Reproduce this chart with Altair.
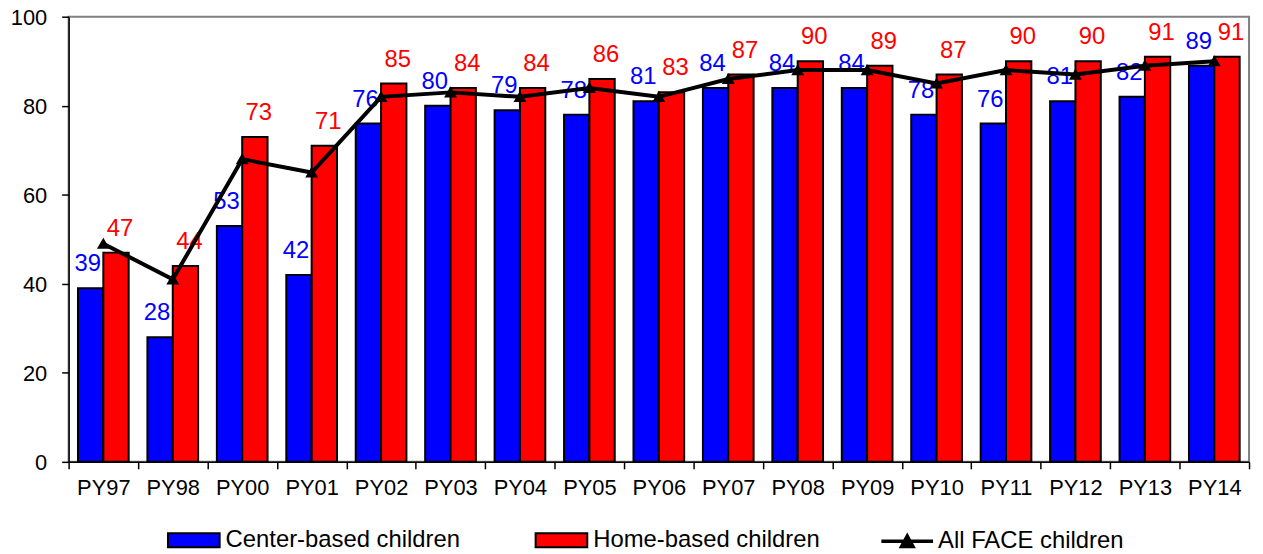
import altair as alt
import pandas as pd

years = ["PY97", "PY98", "PY00", "PY01", "PY02", "PY03", "PY04", "PY05", "PY06",
         "PY07", "PY08", "PY09", "PY10", "PY11", "PY12", "PY13", "PY14"]
center = [39, 28, 53, 42, 76, 80, 79, 78, 81, 84, 84, 84, 78, 76, 81, 82, 89]
home = [47, 44, 73, 71, 85, 84, 84, 86, 83, 87, 90, 89, 87, 90, 90, 91, 91]
all_face = [49, 41, 68, 65, 82, 83, 82, 84, 82, 86, 88, 88, 85, 88, 87, 89, 90]
y_ticks = [0, 20, 40, 60, 80, 100]

CB = "Center-based children"
HB = "Home-based children"
AF = "All FACE children"
FONT = "Liberation Sans"

bars_df = pd.DataFrame({
    "year": years * 2,
    "series": [CB] * len(years) + [HB] * len(years),
    "value": center + home,
})
line_df = pd.DataFrame({"year": years, "series": [AF] * len(years), "value": all_face})

x = alt.X("year:N", sort=years,
          scale=alt.Scale(paddingInner=0, paddingOuter=0),
          axis=alt.Axis(title=None, labelAngle=0, tickBand="extent",
                        labelFontSize=22, labelPadding=9))
y = alt.Y("value:Q", scale=alt.Scale(domain=[0, 100], nice=False),
          axis=alt.Axis(title=None, values=y_ticks, grid=False,
                        labelFontSize=22, labelPadding=15, labelOffset=1))
xoff = alt.XOffset("series:N", sort=[CB, HB],
                   scale=alt.Scale(domain=[CB, HB], paddingOuter=0.37, paddingInner=0))

bars = alt.Chart(bars_df).mark_bar(stroke="black", strokeWidth=2).encode(
    x=x, y=y, xOffset=xoff,
    fill=alt.Fill("series:N",
                  scale=alt.Scale(domain=[CB, HB], range=["#0000FF", "#FF0000"]),
                  legend=alt.Legend(orient="none", legendX=99, legendY=500,
                                    direction="horizontal", title=None,
                                    symbolType="M-1,-0.27H1V0.27H-1Z",
                                    symbolSize=2704, symbolStrokeColor="black",
                                    symbolStrokeWidth=2, symbolOpacity=1,
                                    labelFontSize=24, labelFont=FONT,
                                    labelColor="black", labelOffset=5,
                                    labelLimit=400, columnPadding=71)),
)

txt_c = alt.Chart(bars_df).transform_filter(alt.datum.series == CB).mark_text(
    baseline="bottom", dy=-12, dx=-3, fontSize=24, font=FONT, color="#0000FF"
).encode(x=x, y=y, xOffset=xoff, text="value:Q")

txt_h = alt.Chart(bars_df).transform_filter(alt.datum.series == HB).mark_text(
    baseline="bottom", dy=-12, dx=4, fontSize=24, font=FONT, color="#FF0000"
).encode(x=x, y=y, xOffset=xoff, text="value:Q")

line = alt.Chart(line_df).mark_line(
    color="black", strokeWidth=4,
    point=alt.OverlayMarkDef(shape="triangle-up", filled=True, size=90, color="black"),
).encode(
    x=x, y=y,
    stroke=alt.Stroke("series:N", scale=alt.Scale(domain=[AF], range=["black"]),
                      legend=alt.Legend(orient="none", legendX=816, legendY=500,
                                        title=None,
                                        symbolType="M-1,0H1M-0.22,0.2L0,-0.2L0.22,0.2Z",
                                        symbolSize=2704, symbolStrokeWidth=3.5,
                                        symbolFillColor="black",
                                        labelFontSize=24, labelFont=FONT,
                                        labelColor="black", labelOffset=3,
                                        labelLimit=400)),
)

chart = alt.layer(bars, txt_c, txt_h, line).properties(
    width=1188, height=448,
    autosize=alt.AutoSizeParams(type="none"),
    padding={"left": 61, "top": 7, "right": 6, "bottom": 90},
    background="white",
).configure_view(
    stroke="#808080", strokeWidth=2
).configure_axis(
    domainColor="black", domainWidth=1.5, tickColor="black", tickWidth=1.5,
    tickSize=7, labelFont=FONT, labelColor="black"
)

chart.save("out.html", embed_options={"renderer": "svg", "actions": False})
